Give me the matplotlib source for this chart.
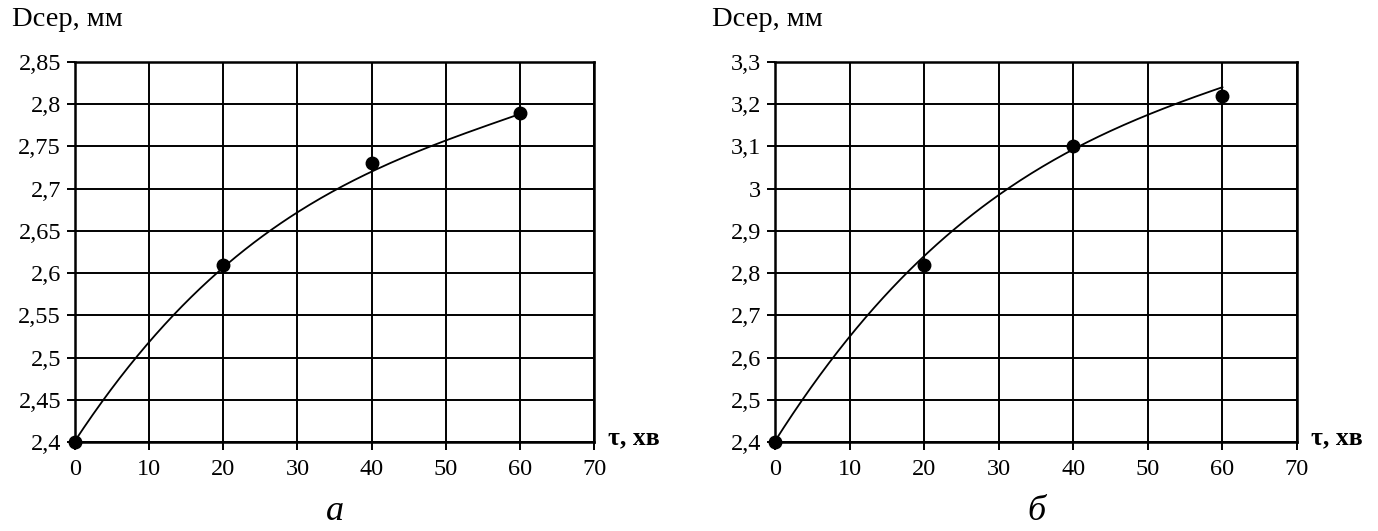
import numpy as np
import matplotlib
matplotlib.use('Agg')
import matplotlib.pyplot as plt

plt.rcParams['font.family'] = ['Liberation Serif', 'DejaVu Serif']

# measured points
t = [0, 20, 40, 60]
d_a = [2.40, 2.61, 2.73, 2.79]
d_b = [2.40, 2.82, 3.10, 3.22]

# trend line values at every 10 min
t_trend = [0, 10, 20, 30, 40, 50, 60]
trend_a = [2.400, 2.522, 2.605, 2.669, 2.723, 2.757, 2.788]
trend_b = [2.400, 2.654, 2.840, 2.979, 3.096, 3.177, 3.239]

x_ticks = [0, 10, 20, 30, 40, 50, 60, 70]
y_ticks_a = [2.4, 2.45, 2.5, 2.55, 2.6, 2.65, 2.7, 2.75, 2.8, 2.85]
y_labels_a = ['2,4', '2,45', '2,5', '2,55', '2,6', '2,65', '2,7', '2,75', '2,8', '2,85']
y_ticks_b = [2.4, 2.5, 2.6, 2.7, 2.8, 2.9, 3.0, 3.1, 3.2, 3.3]
y_labels_b = ['2,4', '2,5', '2,6', '2,7', '2,8', '2,9', '3', '3,1', '3,2', '3,3']

fig = plt.figure(figsize=(13.78, 5.31), dpi=100)
ax1 = fig.add_axes([75/1378, 1 - 442/531, 519/1378, 380/531])
ax2 = fig.add_axes([775/1378, 1 - 442/531, 522/1378, 380/531])


def draw(ax, dots, trend, yt, yl, left_px, right_px, letter):
    coef = np.polyfit(t_trend, trend, 3)
    xs = np.linspace(0, 60, 200)
    ax.plot(xs, np.polyval(coef, xs), color='black', lw=1.3, zorder=3)
    ax.plot(t, dots, 'o', color='black', markersize=9, zorder=4, clip_on=False)
    ax.set_xlim(0, 70)
    ax.set_ylim(yt[0], yt[-1])
    ax.set_xticks(x_ticks)
    ax.set_xticklabels([str(v) for v in x_ticks])
    ax.set_yticks(yt)
    ax.set_yticklabels(yl)
    ax.grid(True, color='black', lw=1.4)
    ax.set_axisbelow(True)
    for s in ax.spines.values():
        s.set_linewidth(1.8)
    ax.tick_params(axis='both', direction='out', length=6, width=1.4,
                   labelsize=17.5, colors='black')
    ax.tick_params(axis='x', pad=6)
    ax.tick_params(axis='y', pad=4)
    fig.text((left_px - 63) / 1378, 1 - 20 / 531, 'Dсер, мм', fontsize=20.5,
             ha='left', va='center')
    fig.text((right_px + 14) / 1378, 1 - 438 / 531, 'τ, хв', fontsize=18.5,
             fontweight='bold', ha='left', va='center')
    fig.text((left_px + right_px) / 2 / 1378, 1 - 520 / 531, letter,
             fontsize=26, fontstyle='italic', ha='center', va='baseline')


draw(ax1, d_a, trend_a, y_ticks_a, y_labels_a, 75, 594, 'а')
draw(ax2, d_b, trend_b, y_ticks_b, y_labels_b, 775, 1297, 'б')

fig.savefig('out.png', dpi=100)
